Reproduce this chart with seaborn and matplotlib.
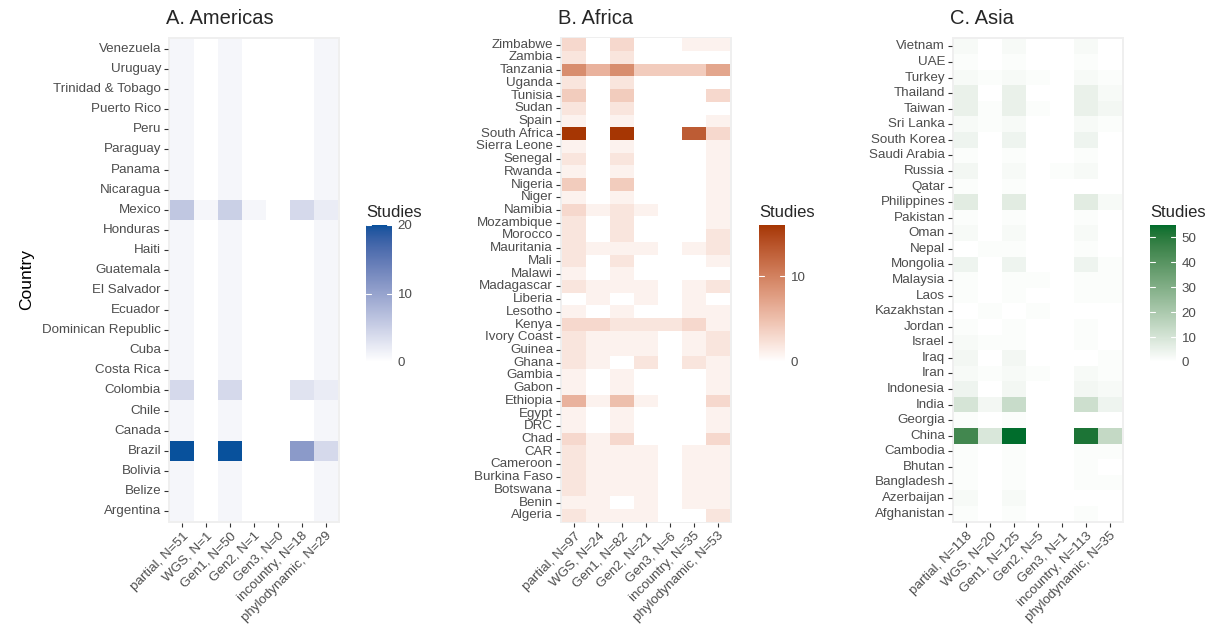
import numpy as np
import pandas as pd
import seaborn as sns
import matplotlib
matplotlib.use('Agg')
import matplotlib.pyplot as plt
from matplotlib.colors import ListedColormap, to_rgb

sns.set_style('white')
plt.rcParams['font.family'] = ['Liberation Sans', 'DejaVu Sans']

methods = ['partial', 'WGS', 'Gen1', 'Gen2', 'Gen3', 'incountry', 'phylodynamic']

# ---- A. Americas (rows top to bottom) ----
americas_countries = ['Venezuela', 'Uruguay', 'Trinidad & Tobago', 'Puerto Rico', 'Peru',
                      'Paraguay', 'Panama', 'Nicaragua', 'Mexico', 'Honduras', 'Haiti',
                      'Guatemala', 'El Salvador', 'Ecuador', 'Dominican Republic', 'Cuba',
                      'Costa Rica', 'Colombia', 'Chile', 'Canada', 'Brazil', 'Bolivia',
                      'Belize', 'Argentina']
americas_n = [51, 1, 50, 1, 0, 18, 29]
americas_values = [
    [1, 0, 1, 0, 0, 0, 1], [1, 0, 1, 0, 0, 0, 1], [1, 0, 1, 0, 0, 0, 1], [1, 0, 1, 0, 0, 0, 1],
    [1, 0, 1, 0, 0, 0, 1], [1, 0, 1, 0, 0, 0, 1], [1, 0, 1, 0, 0, 0, 1], [1, 0, 1, 0, 0, 0, 1],
    [6, 1, 5, 1, 0, 4, 2], [1, 0, 1, 0, 0, 0, 1], [1, 0, 1, 0, 0, 0, 1], [1, 0, 1, 0, 0, 0, 1],
    [1, 0, 1, 0, 0, 0, 1], [1, 0, 1, 0, 0, 0, 1], [1, 0, 1, 0, 0, 0, 1], [1, 0, 1, 0, 0, 0, 1],
    [1, 0, 1, 0, 0, 0, 1], [4, 0, 4, 0, 0, 3, 2], [1, 0, 1, 0, 0, 0, 1], [1, 0, 1, 0, 0, 0, 1],
    [20, 0, 20, 0, 0, 11, 4], [1, 0, 1, 0, 0, 0, 1], [1, 0, 1, 0, 0, 0, 1], [1, 0, 1, 0, 0, 0, 1],
]

# ---- B. Africa ----
africa_countries = ['Zimbabwe', 'Zambia', 'Tanzania', 'Uganda', 'Tunisia', 'Sudan', 'Spain',
                    'South Africa', 'Sierra Leone', 'Senegal', 'Rwanda', 'Nigeria', 'Niger',
                    'Namibia', 'Mozambique', 'Morocco', 'Mauritania', 'Mali', 'Malawi',
                    'Madagascar', 'Liberia', 'Lesotho', 'Kenya', 'Ivory Coast', 'Guinea',
                    'Ghana', 'Gambia', 'Gabon', 'Ethiopia', 'Egypt', 'DRC', 'Chad', 'CAR',
                    'Cameroon', 'Burkina Faso', 'Botswana', 'Benin', 'Algeria']
africa_n = [97, 24, 82, 21, 6, 35, 53]
africa_values = [
    [3, 0, 3, 0, 0, 1, 1], [2, 0, 2, 0, 0, 0, 0], [9, 6, 9, 4, 4, 4, 7], [2, 0, 2, 0, 0, 0, 0],
    [4, 0, 4, 0, 0, 0, 3], [2, 0, 2, 0, 0, 0, 0], [1, 0, 1, 0, 0, 0, 1], [16, 0, 16, 0, 0, 13, 3],
    [1, 0, 1, 0, 0, 0, 1], [2, 0, 2, 0, 0, 0, 1], [1, 0, 1, 0, 0, 0, 1], [4, 0, 4, 0, 0, 0, 1],
    [1, 0, 1, 0, 0, 0, 1], [3, 1, 2, 1, 0, 0, 1], [2, 0, 2, 0, 0, 0, 1], [2, 0, 2, 0, 0, 0, 2],
    [2, 1, 1, 1, 0, 1, 2], [2, 0, 2, 0, 0, 0, 1], [1, 0, 1, 0, 0, 0, 0], [2, 1, 1, 1, 0, 1, 2],
    [0, 1, 0, 1, 0, 1, 0], [1, 0, 1, 0, 0, 1, 1], [3, 3, 2, 2, 2, 3, 1], [2, 1, 1, 1, 0, 1, 2],
    [2, 1, 1, 1, 0, 1, 2], [2, 1, 0, 2, 0, 2, 1], [1, 0, 1, 0, 0, 0, 1], [1, 0, 1, 0, 0, 0, 1],
    [6, 1, 5, 1, 0, 0, 3], [1, 0, 1, 0, 0, 0, 1], [1, 0, 1, 0, 0, 0, 1], [3, 1, 3, 0, 0, 0, 3],
    [2, 1, 1, 1, 0, 1, 1], [2, 1, 1, 1, 0, 1, 1], [2, 1, 1, 1, 0, 1, 1], [2, 1, 1, 1, 0, 1, 1],
    [1, 1, 0, 1, 0, 1, 1], [2, 1, 1, 1, 0, 0, 2],
]

# ---- C. Asia ----
asia_countries = ['Vietnam', 'UAE', 'Turkey', 'Thailand', 'Taiwan', 'Sri Lanka', 'South Korea',
                  'Saudi Arabia', 'Russia', 'Qatar', 'Philippines', 'Pakistan', 'Oman', 'Nepal',
                  'Mongolia', 'Malaysia', 'Laos', 'Kazakhstan', 'Jordan', 'Israel', 'Iraq',
                  'Iran', 'Indonesia', 'India', 'Georgia', 'China', 'Cambodia', 'Bhutan',
                  'Bangladesh', 'Azerbaijan', 'Afghanistan']
asia_n = [118, 20, 125, 5, 1, 113, 35]
asia_values = [
    [2, 0, 2, 0, 0, 2, 0], [1, 0, 1, 0, 0, 1, 0], [2, 1, 2, 1, 0, 2, 1], [5, 0, 5, 0, 0, 5, 2],
    [5, 1, 5, 1, 0, 5, 3], [2, 1, 2, 0, 0, 2, 1], [4, 0, 4, 0, 0, 4, 0], [1, 0, 1, 0, 0, 1, 0],
    [3, 0, 2, 0, 1, 2, 0], [1, 0, 1, 0, 0, 0, 0], [7, 0, 7, 0, 0, 7, 2], [1, 0, 1, 0, 0, 1, 0],
    [2, 0, 2, 0, 0, 2, 0], [0, 1, 1, 0, 0, 1, 0], [4, 0, 4, 0, 0, 4, 1], [1, 0, 1, 1, 0, 1, 1],
    [1, 0, 1, 0, 0, 1, 1], [0, 1, 0, 1, 0, 0, 0], [1, 0, 1, 0, 0, 1, 0], [2, 1, 1, 0, 0, 1, 0],
    [3, 0, 3, 0, 0, 0, 1], [2, 1, 2, 1, 0, 2, 1], [4, 0, 3, 0, 0, 3, 2], [10, 3, 13, 0, 0, 12, 4],
    [1, 0, 1, 0, 0, 0, 0], [45, 9, 55, 0, 0, 52, 14], [1, 0, 1, 0, 0, 1, 1], [1, 0, 1, 0, 0, 1, 0],
    [1, 0, 1, 0, 0, 1, 1], [2, 0, 2, 0, 0, 0, 0], [1, 0, 1, 0, 0, 1, 0],
]


# white -> colour ramp interpolated in CIELAB (like ggplot's scale_fill_gradient)
M = np.array([[0.4124, 0.3576, 0.1805], [0.2126, 0.7152, 0.0722], [0.0193, 0.1192, 0.9505]])
WHITE = np.array([0.95047, 1.0, 1.08883])


def to_lab(c):
    rgb = np.array(to_rgb(c))
    lin = np.where(rgb <= 0.04045, rgb / 12.92, ((rgb + 0.055) / 1.055) ** 2.4)
    xyz = M @ lin / WHITE
    f = np.where(xyz > 0.008856, np.cbrt(xyz), 7.787 * xyz + 16 / 116)
    return np.array([116 * f[1] - 16, 500 * (f[0] - f[1]), 200 * (f[1] - f[2])])


def from_lab(lab):
    fy = (lab[:, 0] + 16) / 116
    f = np.stack([fy + lab[:, 1] / 500, fy, fy - lab[:, 2] / 200], -1)
    xyz = np.where(f ** 3 > 0.008856, f ** 3, (f - 16 / 116) / 7.787) * WHITE
    lin = xyz @ np.linalg.inv(M).T
    lin = np.clip(lin, 0, 1)
    rgb = np.where(lin <= 0.0031308, 12.92 * lin, 1.055 * lin ** (1 / 2.4) - 0.055)
    return np.clip(rgb, 0, 1)


def lab_cmap(high):
    t = np.linspace(0, 1, 256)[:, None]
    lab = to_lab('white') * (1 - t) + to_lab(high) * t
    return ListedColormap(from_lab(lab))


panels = [
    ('A. Americas', americas_countries, americas_values, americas_n, '#08519C', [0, 10, 20],
     [168, 366]),
    ('B. Africa', africa_countries, africa_values, africa_n, '#A63603', [0, 10],
     [560, 759]),
    ('C. Asia', asia_countries, asia_values, asia_n, '#006D2C', [0, 10, 20, 30, 40, 50],
     [952, 1150]),
]

W, H = 1216, 630
fig = plt.figure(figsize=(W / 100, H / 100), dpi=100)
txt = '#4D4D4D'

for i, (title, countries, values, ns, high, cticks, (x0, cx0)) in enumerate(panels):
    df = pd.DataFrame(values, index=countries,
                      columns=[f'{m}, N={n}' for m, n in zip(methods, ns)])
    ax = fig.add_axes([x0 / W, 1 - 523 / H, 172 / W, 486 / H])
    cax = fig.add_axes([cx0 / W, 1 - 362 / H, 26 / W, 137 / H])
    vmax = df.values.max()
    sns.heatmap(df, ax=ax, cmap=lab_cmap(high), vmin=0, vmax=vmax, cbar_ax=cax,
                linewidths=0, xticklabels=True, yticklabels=True)
    ax.set_facecolor('#EFEFEF')
    ax.set_xlim(-0.1, len(methods) + 0.1)
    ax.set_ylim(len(countries) + 0.1, -0.1)
    for s in ax.spines.values():
        s.set_visible(False)
    ax.tick_params(axis='both', length=3, width=0.8, color='#333333', labelcolor=txt,
                   labelsize=9.6, pad=2, bottom=True, left=True)
    plt.setp(ax.get_yticklabels(), rotation=0)
    plt.setp(ax.get_xticklabels(), rotation=45, ha='right', rotation_mode='anchor')
    ax.set_xlabel('')
    ax.set_ylabel('Country' if i == 0 else '', fontsize=12.5, color='black', labelpad=6)
    ax.set_title(title, loc='left', fontsize=14.5, pad=9, x=-0.01)

    cbar = ax.collections[0].colorbar
    cbar.outline.set_visible(False)
    cbar.set_ticks(cticks)
    cax.tick_params(length=0, labelsize=9.6, labelcolor=txt, pad=4)
    for t in cticks:
        cax.plot([0, 0.2], [t, t], color='white', lw=0.8, transform=cax.get_yaxis_transform())
        cax.plot([0.8, 1], [t, t], color='white', lw=0.8, transform=cax.get_yaxis_transform())
    cax.set_title('Studies', loc='left', fontsize=12, pad=6)

fig.savefig('out.png', dpi=100)
